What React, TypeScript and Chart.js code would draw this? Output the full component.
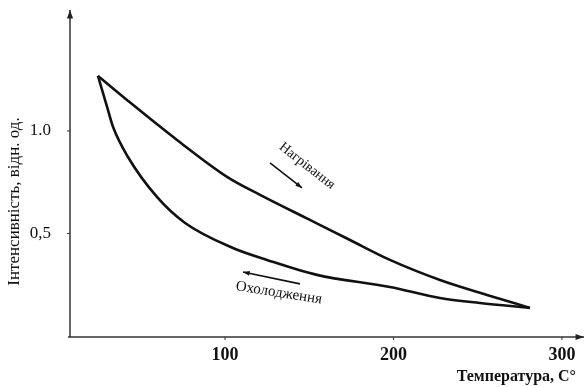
import React, { useEffect, useRef } from "react";
import { Chart, registerables } from "chart.js";

Chart.register(...registerables);

// Heating branch (temperature, °C / intensity, rel. units)
const heatingT = [24.6, 41.8, 71.5, 101.2, 120.8, 150.4, 174.2, 197.9, 227.6, 255.5, 281.0];
const heatingI = [1.268, 1.151, 0.956, 0.776, 0.688, 0.566, 0.468, 0.371, 0.273, 0.2, 0.137];
// Cooling branch
const coolingT = [24.6, 30.0, 33.5, 42.4, 59.6, 76.3, 104.7, 124.9, 154.6, 197.9, 227.6, 251.3, 281.0];
const coolingI = [1.268, 1.117, 1.02, 0.873, 0.678, 0.551, 0.429, 0.371, 0.298, 0.239, 0.185, 0.161, 0.137];

const xTickValues = [100, 200, 300];
const yTickValues = [0.5, 1.0];
const yTickLabels = ["0,5", "1.0"];

const xTitle = "Температура, С°";
const yTitle = "Інтенсивність, відн. од.";
const heatLabel = "Нагрівання";
const coolLabel = "Охолодження";

const SERIF = "'Liberation Serif', 'DejaVu Serif', serif";

function arrow(ctx: CanvasRenderingContext2D, x1: number, y1: number, x2: number, y2: number, head: number) {
  const a = Math.atan2(y2 - y1, x2 - x1);
  ctx.beginPath();
  ctx.moveTo(x1, y1);
  ctx.lineTo(x2, y2);
  ctx.stroke();
  ctx.beginPath();
  ctx.moveTo(x2, y2);
  ctx.lineTo(x2 - head * Math.cos(a - 0.35), y2 - head * Math.sin(a - 0.35));
  ctx.lineTo(x2 - head * Math.cos(a + 0.35), y2 - head * Math.sin(a + 0.35));
  ctx.closePath();
  ctx.fill();
}

const decorPlugin = {
  id: "decor",
  afterDraw(chart: any) {
    const { ctx, chartArea, scales } = chart;
    const xs = scales.x;
    const ys = scales.y;
    const px = (v: number) => xs.getPixelForValue(v);
    const py = (v: number) => ys.getPixelForValue(v);
    ctx.save();
    ctx.strokeStyle = "#333";
    ctx.fillStyle = "#222";
    ctx.lineWidth = 1.5;
    // y axis with arrow
    const axX = chartArea.left + 2;
    const axY = chartArea.bottom;
    arrow(ctx, axX, axY, axX, chartArea.top - 2, 9);
    // x axis with arrow
    arrow(ctx, chartArea.left, axY, chartArea.right + 1, axY, 9);
    // small ticks
    ctx.lineWidth = 1;
    yTickValues.forEach((v) => {
      ctx.beginPath();
      ctx.moveTo(axX - 3, py(v));
      ctx.lineTo(axX, py(v));
      ctx.stroke();
    });
    xTickValues.forEach((v) => {
      ctx.beginPath();
      ctx.moveTo(px(v), axY);
      ctx.lineTo(px(v), axY + 3);
      ctx.stroke();
    });

    // annotations
    ctx.fillStyle = "#111";
    ctx.strokeStyle = "#111";
    ctx.lineWidth = 1.6;
    arrow(ctx, px(126.7), py(0.844), px(145.7), py(0.722), 7);
    arrow(ctx, px(144.5), py(0.254), px(110.7), py(0.312), 7);

    ctx.textAlign = "center";
    ctx.textBaseline = "middle";
    ctx.save();
    ctx.translate(px(148.7), py(0.829));
    ctx.rotate((38 * Math.PI) / 180);
    ctx.font = `14px ${SERIF}`;
    ctx.fillText(heatLabel, 0, 0);
    ctx.restore();

    ctx.save();
    ctx.translate(px(132), py(0.21));
    ctx.rotate((9 * Math.PI) / 180);
    ctx.font = `15px ${SERIF}`;
    ctx.fillText(coolLabel, 0, 0);
    ctx.restore();

    // axis titles
    ctx.save();
    ctx.translate(19, 201.5);
    ctx.rotate(-Math.PI / 2);
    ctx.textBaseline = "alphabetic";
    ctx.font = `17px ${SERIF}`;
    ctx.fillText(yTitle, 0, 0);
    ctx.restore();

    ctx.textAlign = "right";
    ctx.textBaseline = "alphabetic";
    ctx.font = `bold 16px ${SERIF}`;
    ctx.fillText(xTitle, 576, 381);
    ctx.restore();
  },
};

export default function App() {
  const ref = useRef<HTMLCanvasElement | null>(null);
  useEffect(() => {
    if (!ref.current) return;
    const chart = new Chart(ref.current, {
      type: "scatter",
      data: {
        datasets: [
          {
            label: heatLabel,
            data: heatingT.map((t, i) => ({ x: t, y: heatingI[i] })),
            showLine: true,
            borderColor: "#111",
            borderWidth: 2.6,
            pointRadius: 0,
            cubicInterpolationMode: "monotone",
          },
          {
            label: coolLabel,
            data: coolingT.map((t, i) => ({ x: t, y: coolingI[i] })),
            showLine: true,
            borderColor: "#111",
            borderWidth: 2.6,
            pointRadius: 0,
            cubicInterpolationMode: "monotone",
          },
        ],
      },
      options: {
        responsive: false,
        animation: false,
        devicePixelRatio: 1,
        layout: { padding: { top: 12, right: 3, left: 0, bottom: 0 } },
        plugins: { legend: { display: false }, tooltip: { enabled: false } },
        scales: {
          x: {
            type: "linear",
            min: 6.8,
            max: 312.5,
            border: { display: false },
            grid: { display: false },
            afterBuildTicks: (s: any) => {
              s.ticks = xTickValues.map((v) => ({ value: v }));
            },
            afterFit: (s: any) => {
              s.height = 50;
              s.paddingLeft = 0;
              s.paddingRight = 0;
            },
            ticks: {
              color: "#111",
              padding: 0,
              maxRotation: 0,
              autoSkip: false,
              font: { family: SERIF, size: 18, weight: "bold" },
              callback: (v: any) => String(v),
            },
          },
          y: {
            type: "linear",
            min: -0.005,
            max: 1.58,
            border: { display: false },
            grid: { display: false },
            afterBuildTicks: (s: any) => {
              s.ticks = yTickValues.map((v) => ({ value: v }));
            },
            afterFit: (s: any) => {
              s.width = 68;
              s.paddingTop = 0;
              s.paddingBottom = 0;
            },
            ticks: {
              color: "#111",
              padding: 9,
              autoSkip: false,
              font: { family: SERIF, size: 17 },
              callback: (v: any) => {
                const i = yTickValues.indexOf(Number(v));
                return i >= 0 ? yTickLabels[i] : "";
              },
            },
          },
        },
      },
      plugins: [decorPlugin],
    } as any);
    return () => chart.destroy();
  }, []);
  return (
    <div style={{ position: "fixed", left: 0, top: 0, width: 586, height: 387, background: "#fff" }}>
      <canvas ref={ref} width={586} height={387} style={{ width: 586, height: 387, display: "block" }} />
    </div>
  );
}
